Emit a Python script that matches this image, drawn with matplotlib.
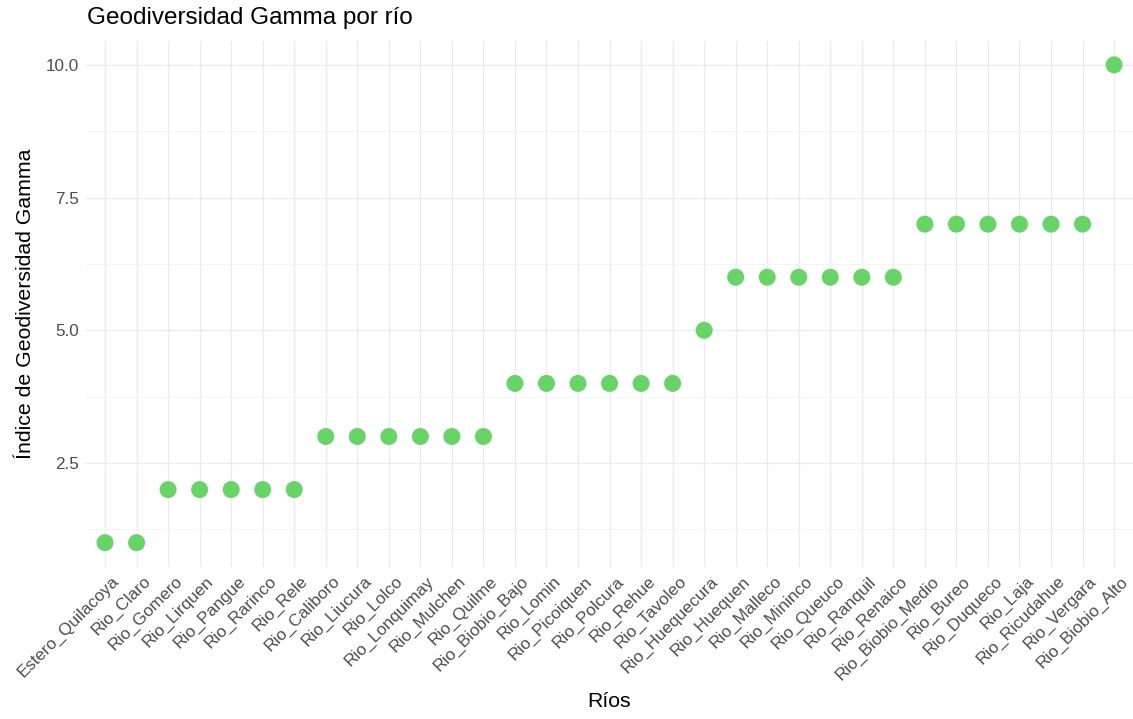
import matplotlib
matplotlib.use("Agg")
import matplotlib.pyplot as plt
from matplotlib.ticker import MultipleLocator

rios = ["Estero_Quilacoya", "Rio_Claro", "Rio_Gomero", "Rio_Lirquen", "Rio_Pangue",
        "Rio_Rarinco", "Rio_Rele", "Rio_Caliboro", "Rio_Liucura", "Rio_Lolco",
        "Rio_Lonquimay", "Rio_Mulchen", "Rio_Quilme", "Rio_Biobio_Bajo", "Rio_Lomin",
        "Rio_Picoiquen", "Rio_Polcura", "Rio_Rehue", "Rio_Tavoleo", "Rio_Huequecura",
        "Rio_Huequen", "Rio_Malleco", "Rio_Mininco", "Rio_Queuco", "Rio_Ranquil",
        "Rio_Renaico", "Rio_Biobio_Medio", "Rio_Bureo", "Rio_Duqueco", "Rio_Laja",
        "Rio_Ricudahue", "Rio_Vergara", "Rio_Biobio_Alto"]
gamma = [1, 1, 2, 2, 2, 2, 2, 3, 3, 3, 3, 3, 3, 4, 4, 4, 4, 4, 4, 5,
         6, 6, 6, 6, 6, 6, 7, 7, 7, 7, 7, 7, 10]

plt.rcParams["font.family"] = ["Liberation Sans", "DejaVu Sans"]

fig = plt.figure(figsize=(11.33, 7.19), dpi=100)
ax = fig.add_axes([0.076, 0.212, 0.924, 0.731])

x = list(range(1, len(rios) + 1))
ax.scatter(x, gamma, s=150, color="#66D466", edgecolors="none", zorder=3)

ax.set_xlim(0.4, len(rios) + 0.6)
ax.set_ylim(0.55, 10.45)
ax.set_xticks(x)
ax.set_xticklabels([])
# rotated category labels, end a little right of the tick like ggplot hjust=1
for xi, name in zip(x, rios):
    ax.annotate(name, xy=(xi, 0), xycoords=("data", "axes fraction"),
                xytext=(4.5, -5), textcoords="offset points",
                rotation=45, ha="right", va="top", rotation_mode="anchor",
                fontsize=12.3, color="#4D4D4D", annotation_clip=False)
ax.yaxis.set_minor_locator(MultipleLocator(1.25))
ax.set_yticks([2.5, 5.0, 7.5, 10.0])
ax.set_yticklabels(["2.5", "5.0", "7.5", "10.0"], fontsize=12.3, color="#4D4D4D")

ax.grid(which="major", color="#EBEBEB", lw=1.0)
ax.grid(which="minor", axis="y", color="#F3F3F3", lw=0.6)
ax.set_axisbelow(True)
ax.tick_params(which="both", length=0, pad=5)
for sp in ax.spines.values():
    sp.set_visible(False)

ax.set_xlabel("Ríos", fontsize=15.3)
ax.xaxis.set_label_coords(0.5, -0.238)
ax.set_ylabel("Índice de Geodiversidad Gamma", fontsize=15.3, labelpad=8)
ax.set_title("Geodiversidad Gamma por río", fontsize=17.5, loc="left", x=0.001, pad=12)

fig.savefig("out.png", dpi=100)
